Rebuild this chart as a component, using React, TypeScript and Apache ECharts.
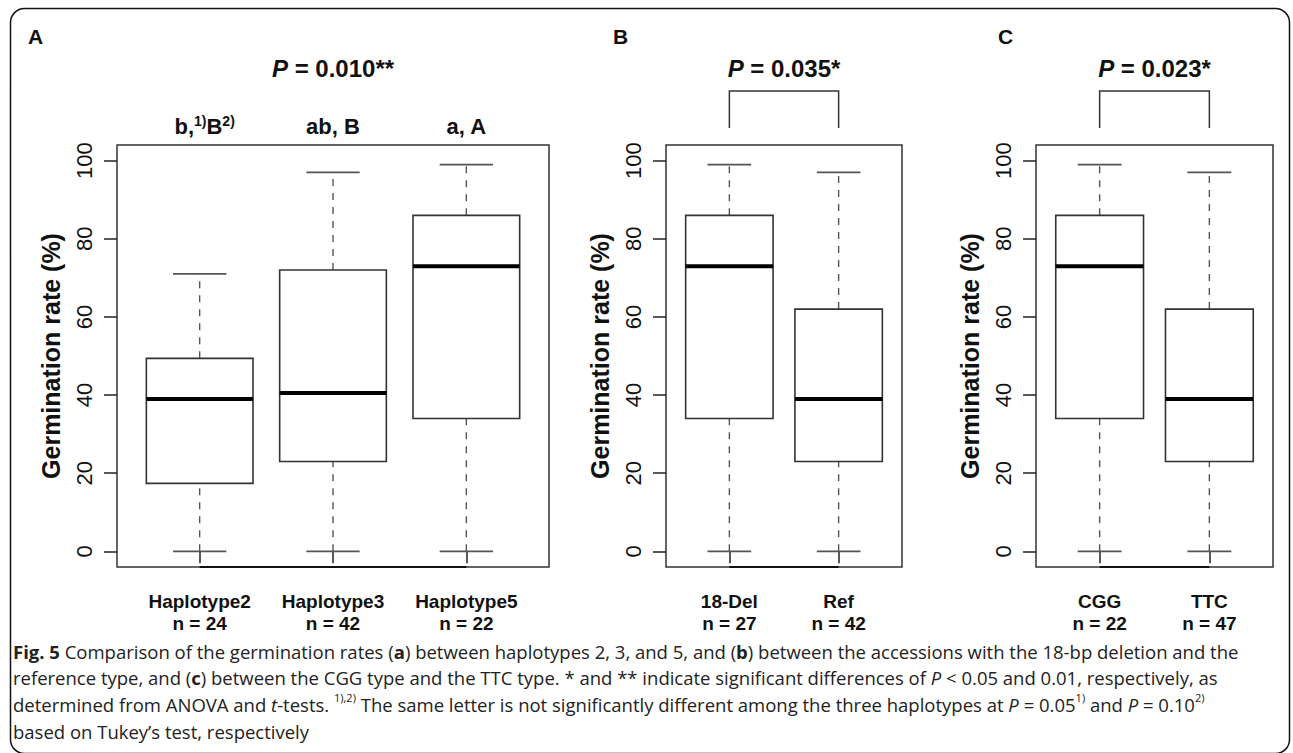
import React, { useEffect, useRef } from "react";
import * as echarts from "echarts";

// ---------------- data ----------------
const yTicks = [0, 20, 40, 60, 80, 100];

const catsA = ["Haplotype2", "Haplotype3", "Haplotype5"];
const countsA = [24, 42, 22];
// [min, Q1, median, Q3, max]
const statsA = [
  [0, 17.4, 39, 49.4, 71],
  [0, 23, 40.5, 72, 97],
  [0, 34, 73, 86, 99],
];
const tukey05A = ["b", "ab", "a"];
const tukey10A = ["B", "B", "A"];

const catsB = ["18-Del", "Ref"];
const countsB = [27, 42];
const statsB = [
  [0, 34, 73, 86, 99],
  [0, 23, 39, 62, 97],
];

const catsC = ["CGG", "TTC"];
const countsC = [22, 47];
const statsC = [
  [0, 34, 73, 86, 99],
  [0, 23, 39, 62, 97],
];

const pValues = ["0.010**", "0.035*", "0.023*"];
const panelLetters = ["A", "B", "C"];

const captionLines = [
  "{b|Fig. 5} Comparison of the germination rates ({b|a}) between haplotypes 2, 3, and 5, and ({b|b}) between the accessions with the 18-bp deletion and the",
  "reference type, and ({b|c}) between the CGG type and the TTC type. * and ** indicate significant differences of {i|P} < 0.05 and 0.01, respectively, as",
  "determined from ANOVA and {i|t}-tests. {s|1),2)} The same letter is not significantly different among the three haplotypes at {i|P} = 0.05{s|1)} and {i|P} = 0.10{s|2)}",
  "based on Tukey\u2019s test, respectively",
];

// ---------------- layout / style ----------------
const FONT = "'Liberation Sans', Arial, Helvetica, sans-serif";
const CAP_FONT = "'Open Sans', 'Noto Sans', sans-serif";
const CAP_SIZE = 18.5;
const Y_MIN = -4;
const Y_MAX = 104;

const panels = [
  { cats: catsA, counts: countsA, stats: statsA, bracket: false, grid: { left: 117, top: 145, width: 432, height: 422 }, letterX: 28 },
  { cats: catsB, counts: countsB, stats: statsB, bracket: true, grid: { left: 666, top: 145, width: 236, height: 422 }, letterX: 613 },
  { cats: catsC, counts: countsC, stats: statsC, bracket: true, grid: { left: 1036, top: 145, width: 237, height: 422 }, letterX: 998 },
];

function wrapPlain(t: string) {
  return t
    .split(/(\{[a-z]\|[^}]*\})/)
    .filter((s) => s.length > 0)
    .map((s) => (s.startsWith("{") && s.includes("|") ? s : `{n|${s}}`))
    .join("");
}

function boxRender(params: any, api: any) {
  const x = api.value(0);
  const mn = api.value(1);
  const q1 = api.value(2);
  const md = api.value(3);
  const q3 = api.value(4);
  const mx = api.value(5);
  const p = (a: number, b: number) => api.coord([a, b]);
  const hw = 0.4;
  const cw = 0.2;
  const ln = (a: number[], b: number[], style: any) => ({
    type: "line",
    shape: { x1: a[0], y1: a[1], x2: b[0], y2: b[1] },
    style,
  });
  const whisk = { stroke: "#555", lineWidth: 1.4, lineDash: [7, 7] };
  const cap = { stroke: "#555", lineWidth: 1.8 };
  const tl = p(x - hw, q3);
  const br = p(x + hw, q1);
  const children: any[] = [
    ln(p(x, q3), p(x, mx), whisk),
    ln(p(x, mn), p(x, q1), whisk),
    ln(p(x - cw, mx), p(x + cw, mx), cap),
    ln(p(x - cw, mn), p(x + cw, mn), cap),
    {
      type: "rect",
      shape: { x: tl[0], y: tl[1], width: br[0] - tl[0], height: br[1] - tl[1] },
      style: { fill: "#fff", stroke: "#333", lineWidth: 1.6 },
    },
    ln(p(x - hw, md), p(x + hw, md), { stroke: "#000", lineWidth: 4 }),
  ];
  if (x > 1) {
    children.push(ln(p(x - 1, Y_MIN), p(x, Y_MIN), { stroke: "#111", lineWidth: 2.2 }));
  }
  return { type: "group", children };
}

function buildOption() {
  const grid: any[] = [];
  const xAxis: any[] = [];
  const yAxis: any[] = [];
  const series: any[] = [];
  const graphic: any[] = [];

  panels.forEach((pn, i) => {
    const n = pn.cats.length;
    const ticks = pn.cats.map((_, k) => k + 1);
    const xmin = 0.5 - 0.04 * n;
    const xmax = n + 0.5 + 0.04 * n;
    grid.push({
      ...pn.grid,
      show: true,
      borderColor: "#333",
      borderWidth: 1.5,
      backgroundColor: "transparent",
    });
    xAxis.push({
      gridIndex: i,
      type: "value",
      min: xmin,
      max: xmax,
      axisLine: { show: false },
      splitLine: { show: false },
      axisTick: { show: true, length: 12, inside: false, customValues: ticks, lineStyle: { color: "#222", width: 1.5 } },
      axisLabel: {
        show: true,
        customValues: ticks,
        margin: 23,
        formatter: (v: number) => `${pn.cats[Math.round(v) - 1]}\nn = ${pn.counts[Math.round(v) - 1]}`,
        fontSize: 19,
        fontWeight: "bold",
        lineHeight: 22,
        color: "#111",
        fontFamily: FONT,
      },
    });
    yAxis.push({
      gridIndex: i,
      type: "value",
      min: Y_MIN,
      max: Y_MAX,
      axisLine: { show: false },
      splitLine: { show: false },
      axisTick: { show: true, length: 13, inside: false, customValues: yTicks, lineStyle: { color: "#222", width: 1.5 } },
      axisLabel: {
        show: true,
        customValues: yTicks,
        rotate: 90,
        fontSize: 22,
        lineHeight: 22,
        margin: 22,
        color: "#111",
        fontFamily: FONT,
      },
      name: "Germination rate (%)",
      nameLocation: "middle",
      nameRotate: 90,
      nameGap: 54,
      nameTextStyle: { fontSize: 25, fontWeight: "bold", color: "#111", fontFamily: FONT },
    });

    series.push({
      type: "custom",
      xAxisIndex: i,
      yAxisIndex: i,
      silent: true,
      encode: { x: 0, y: [1, 2, 3, 4, 5] },
      data: pn.stats.map((s, k) => [k + 1, ...s]),
      renderItem: boxRender,
      z: 3,
    });

    // panel-level annotation: P value (and bracket)
    series.push({
      type: "custom",
      xAxisIndex: i,
      yAxisIndex: i,
      silent: true,
      encode: { x: 0, y: 1 },
      data: [[1, Y_MAX, n]],
      renderItem: (params: any, api: any) => {
        const last = api.value(2);
        const top = api.coord([1, Y_MAX])[1];
        const x0 = api.coord([1, Y_MAX])[0];
        const x1 = api.coord([last, Y_MAX])[0];
        const cx = (x0 + x1) / 2;
        const children: any[] = [
          {
            type: "text",
            x: cx,
            y: top - 77,
            style: {
              text: `{i|P}{n| = ${pValues[i]}}`,
              rich: {
                i: { fontStyle: "italic", fontWeight: "bold", fontSize: 24, fontFamily: FONT, fill: "#111", lineHeight: 26, verticalAlign: "middle" },
                n: { fontWeight: "bold", fontSize: 24, fontFamily: FONT, fill: "#111", lineHeight: 26, verticalAlign: "middle" },
              },
              align: "center",
              verticalAlign: "middle",
            },
          },
        ];
        if (pn.bracket) {
          children.push({
            type: "polyline",
            shape: { points: [[x0, top - 17], [x0, top - 54], [x1, top - 54], [x1, top - 17]] },
            style: { stroke: "#333", lineWidth: 1.5, fill: "none" },
          });
        }
        return { type: "group", children };
      },
    });

    graphic.push({
      type: "text",
      x: pn.letterX,
      y: 36,
      style: {
        text: panelLetters[i],
        fontSize: 21,
        fontWeight: "bold",
        fontFamily: FONT,
        fill: "#111",
        align: "left",
        verticalAlign: "middle",
      },
    });
  });

  // Tukey letters for panel A
  series.push({
    type: "custom",
    xAxisIndex: 0,
    yAxisIndex: 0,
    silent: true,
    encode: { x: 0, y: 1 },
    data: tukey05A.map((_, k) => [k + 1, Y_MAX]),
    renderItem: (params: any, api: any) => {
      const k = params.dataIndex;
      const pt = api.coord([api.value(0), Y_MAX]);
      const text = k === 0 ? `{n|${tukey05A[k]},}{s|1)}{n|${tukey10A[k]}}{s|2)}` : `{n|${tukey05A[k]}, ${tukey10A[k]}}`;
      return {
        type: "text",
        x: pt[0] + (k === 0 ? 5 : 0),
        y: pt[1] - 19,
        style: {
          text,
          rich: {
            n: { fontSize: 22, fontWeight: "bold", fontFamily: FONT, fill: "#111", lineHeight: 24, verticalAlign: "middle" },
            s: { fontSize: 14, fontWeight: "bold", fontFamily: FONT, fill: "#111", lineHeight: 14, verticalAlign: "top" },
          },
          align: "center",
          verticalAlign: "middle",
        },
      };
    },
  });

  // outer frame
  graphic.push({
    type: "rect",
    shape: { x: 10.5, y: 8.5, width: 1279, height: 745, r: 14 },
    style: { fill: "none", stroke: "#111", lineWidth: 1.5 },
    z: -1,
  });

  const capY = [651, 677, 704, 731];
  captionLines.forEach((t, k) => {
    graphic.push({
      type: "text",
      x: 13,
      y: capY[k],
      style: {
        text: wrapPlain(t),
        rich: {
          n: { fontSize: CAP_SIZE, fontFamily: CAP_FONT, fill: "#222", lineHeight: 24, verticalAlign: "middle" },
          b: { fontWeight: "bold", fontSize: CAP_SIZE, fontFamily: CAP_FONT, fill: "#222", lineHeight: 24, verticalAlign: "middle" },
          i: { fontStyle: "italic", fontSize: CAP_SIZE, fontFamily: CAP_FONT, fill: "#222", lineHeight: 24, verticalAlign: "middle" },
          s: { fontSize: 11, fontFamily: CAP_FONT, fill: "#222", lineHeight: 12, verticalAlign: "top" },
        },
        align: "left",
        verticalAlign: "middle",
      },
    });
  });

  return {
    animation: false,
    backgroundColor: "#fff",
    grid,
    xAxis,
    yAxis,
    series,
    graphic,
  };
}

export default function App() {
  const ref = useRef<HTMLDivElement>(null);
  useEffect(() => {
    if (!ref.current) return;
    const chart = echarts.init(ref.current, null, { renderer: "svg" });
    chart.setOption(buildOption());
    return () => chart.dispose();
  }, []);
  return (
    <div
      ref={ref}
      style={{ position: "absolute", left: 0, top: 0, width: 1293, height: 753, background: "#fff" }}
    />
  );
}
